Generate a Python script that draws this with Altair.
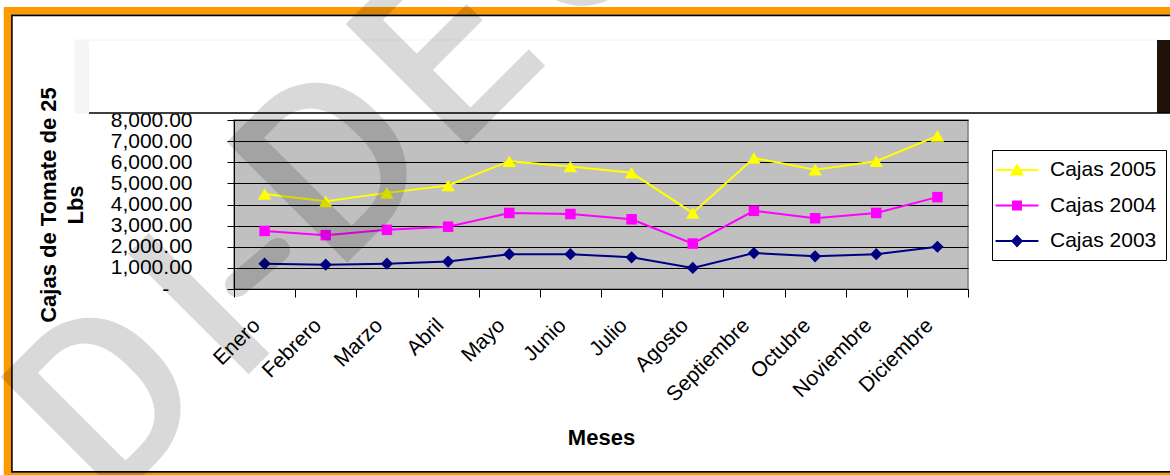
import altair as alt
import pandas as pd

# --- data -----------------------------------------------------------------
meses = ["Enero", "Febrero", "Marzo", "Abril", "Mayo", "Junio", "Julio",
         "Agosto", "Septiembre", "Octubre", "Noviembre", "Diciembre"]
cajas_2005 = [4500, 4150, 4550, 4900, 6050, 5800, 5500, 3600, 6200, 5650, 6050, 7250]
cajas_2004 = [2750, 2550, 2800, 2950, 3600, 3550, 3300, 2150, 3700, 3350, 3600, 4350]
cajas_2003 = [1200, 1150, 1200, 1300, 1650, 1650, 1500, 1000, 1700, 1550, 1650, 2000]

series = ["Cajas 2005", "Cajas 2004", "Cajas 2003"]
valores = [cajas_2005, cajas_2004, cajas_2003]
colores = ["#FFFF00", "#FF00FF", "#000080"]
formas = ["triangle-up", "square", "diamond"]
tamanos = [180, 110, 150]

# legend symbols: a short line with the series marker on it
simbolos_leyenda = [
    "M-1.95,-0.09H1.95V0.09H-1.95Z M0,-0.62L0.64,0.5H-0.64Z",
    "M-1.95,-0.09H1.95V0.09H-1.95Z M-0.45,-0.45H0.45V0.45H-0.45Z",
    "M-1.95,-0.09H1.95V0.09H-1.95Z M0,-0.58L0.55,0L0,0.58L-0.55,0Z",
]

df = pd.DataFrame(
    [{"Mes": m, "Serie": s, "Cajas": v}
     for s, vals in zip(series, valores) for m, v in zip(meses, vals)]
)

FONT = "Liberation Sans"
W, H = 734, 169          # plot area
LEFT, TOP = 234, 120     # plot origin inside the 1170x475 page

x_enc = alt.X(
    "Mes:N", sort=meses,
    scale=alt.Scale(domain=meses, paddingInner=0, paddingOuter=0),
    axis=alt.Axis(
        title="Meses", titleFont=FONT, titleFontSize=22, titleFontWeight="bold",
        titleColor="black", titleY=148, titleBaseline="middle",
        labelAngle=315, labelAlign="right", labelBaseline="middle",
        labelFont=FONT, labelFontSize=21, labelColor="black",
        labelPadding=25, labelOffset=-8, labelOverlap=False, labelLimit=400,
        tickSize=8, tickColor="black", domainColor="black",
        tickBand="extent", grid=False,
    ),
)
# accounting-style zero: a dash followed by fixed-width blanks (the zero-width
# space at the end keeps the blanks from being trimmed)
y_enc = alt.Y(
    "Cajas:Q",
    scale=alt.Scale(domain=[0, 8000], nice=False, zero=True),
    axis=alt.Axis(
        values=list(range(0, 8001, 1000)),
        labelExpr="datum.value == 0 ? '-\u00a0\u00a0\u00a0\u00a0\u200b' : format(datum.value, ',.2f')",
        labelFont=FONT, labelFontSize=21, labelColor="black",
        labelPadding=35, labelOverlap=False, labelFlush=False,
        tickSize=7, tickColor="black", domainColor="black",
        grid=True, gridColor="black", gridWidth=1,
        title=["Cajas de Tomate de 25", "Lbs"], titleFont=FONT, titleFontSize=22,
        titleFontWeight="bold", titleColor="black", titleX=-186,
        titleBaseline="middle", titleLineHeight=27,
    ),
)

uno = alt.Data(values=[{}])


def caja(x, x2, y, y2, **estilo):
    """Decorative rectangle given in plot-relative pixels."""
    return alt.Chart(uno).mark_rect(**estilo).encode(
        x=alt.value(x), x2=alt.value(x2), y=alt.value(y), y2=alt.value(y2)
    )


# page frame: orange band with a thin black inner line
marco = caja(-226.5, 960, -109.2, 356.5, fill="transparent", stroke="#FF9900", strokeWidth=7.5)
marco_linea = caja(-222.1, 960, -104.6, 351.9, fill="transparent", stroke="black", strokeWidth=1.6)

# title panel
panel = caja(-159, 924, -80, -7, fill="transparent", stroke="#F2F2F2", strokeWidth=1)
panel_barra = caja(-159, -145, -80, -7, fill="#F5F5F5")
panel_borde = caja(923, 940, -80, -7, fill="#1E1208")
panel_base = alt.Chart(uno).mark_rule(color="black", strokeWidth=1.5).encode(
    x=alt.value(-145), x2=alt.value(940), y=alt.value(-7)
)

# one line and one marker layer per series
capas_series = []
for s, c, f, t in zip(series, colores, formas, tamanos):
    base = alt.Chart(df).transform_filter(alt.datum.Serie == s)
    capas_series.append(base.mark_line(color=c, strokeWidth=2).encode(x=x_enc, y=y_enc))
    capas_series.append(
        base.mark_point(color=c, shape=f, size=t, filled=True, opacity=1).encode(x=x_enc, y=y_enc)
    )

leyenda = alt.Legend(
    title=None, orient="none", legendX=758, legendY=30,
    labelFont=FONT, labelFontSize=21, labelColor="black", labelOffset=22, labelLimit=300,
    symbolSize=484, symbolOffset=5, symbolStrokeWidth=0, symbolOpacity=1,
    strokeColor="black", fillColor="white", padding=9, rowPadding=14.5,
)
# invisible points that only carry the legend (line + marker symbols)
leyenda_capa = alt.Chart(df).transform_filter(alt.datum.Mes == meses[0]).mark_point(
    filled=True, opacity=0, size=484
).encode(
    x=x_enc, y=y_enc,
    fill=alt.Fill("Serie:N", scale=alt.Scale(domain=series, range=colores), legend=leyenda),
    shape=alt.Shape("Serie:N", scale=alt.Scale(domain=series, range=simbolos_leyenda), legend=leyenda),
)

# diagonal watermark: letters placed along a 45-degree baseline
marca_letras = [("D", -125, 390), ("I", 1, 268), ("D", 101, 155), ("E", 220, 37), ("C", 336, -79)]
marca = [
    alt.Chart(uno).mark_text(
        text=letra, font="Roboto", fontWeight=500, fontSize=240, angle=315,
        align="left", baseline="alphabetic", fill="black", fillOpacity=0.15,
    ).encode(x=alt.value(px), y=alt.value(py))
    for letra, px, py in marca_letras
]
marca_guion = alt.Chart(uno).mark_rule(
    color="black", opacity=0.15, strokeWidth=24, strokeCap="round"
).encode(x=alt.value(3), x2=alt.value(44), y=alt.value(165), y2=alt.value(130))

chart = alt.layer(
    marco, marco_linea, panel, panel_barra, panel_borde, panel_base,
    *capas_series, leyenda_capa, *marca, marca_guion,
).properties(
    width=W, height=H,
    title=alt.TitleParams(
        "Importaciones Hortifruti", font=FONT, fontSize=26, fontWeight="bold",
        color="#F2F2F2", anchor="middle", baseline="middle", offset=53,
    ),
    autosize=alt.AutoSizeParams(type="none"),
    padding={"left": LEFT, "top": TOP, "right": 1170 - LEFT - W, "bottom": 475 - TOP - H},
).configure(
    background="white", font=FONT,
).configure_view(
    fill="#C0C0C0", stroke="#808080", strokeWidth=1.5,
)

chart.save("out.html", embed_options={"renderer": "svg", "actions": False})
